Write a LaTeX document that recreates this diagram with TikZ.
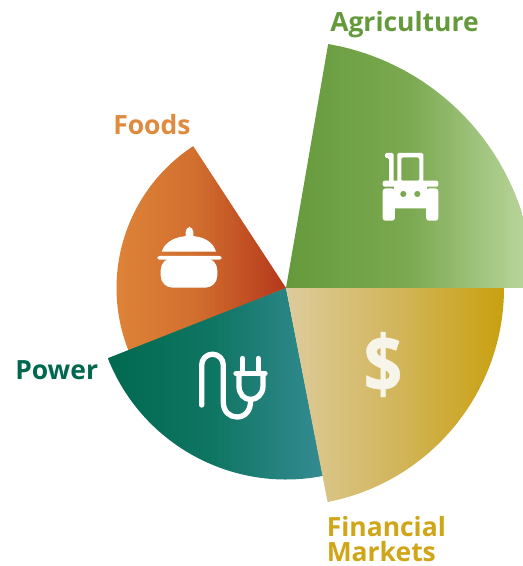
\documentclass[tikz,border=0pt]{standalone}
\usepackage{fontspec}
\setmainfont{Open Sans}
\newfontfamily\dollarfont[FakeBold=0.6]{Open Sans Bold}
\definecolor{agl}{HTML}{659A3C}\definecolor{agm}{HTML}{7BA951}\definecolor{agr}{HTML}{BDD8A0}
\definecolor{finl}{HTML}{DDCB9C}\definecolor{finm}{HTML}{D2B65C}\definecolor{finr}{HTML}{C9A00F}
\definecolor{powl}{HTML}{00694F}\definecolor{powm}{HTML}{107664}\definecolor{powr}{HTML}{348B92}
\definecolor{fool}{HTML}{E0873A}\definecolor{foom}{HTML}{D2702F}\definecolor{foor}{HTML}{B5381B}
\definecolor{agtxt}{HTML}{659A3C}\definecolor{fintxt}{HTML}{D0A517}\definecolor{powtxt}{HTML}{00684E}\definecolor{footxt}{HTML}{E08A3E}
\definecolor{dollar}{HTML}{F7F5EA}
\tikzset{
 lab/.style={font=\fontsize{19.85}{18.7}\selectfont\bfseries,inner sep=0pt,align=left},
 iconfill/.style={fill=white,draw=none},
 iconline/.style={draw=white,line width=4pt,line cap=round,line join=round},
}
\begin{document}
\begin{tikzpicture}[x=0.75pt,y=0.75pt]
\useasboundingbox (0,0) rectangle (523,566);
\clip (0,0) rectangle (523,566);
\begin{scope}[shift={(0,566)},yscale=-1]
\coordinate (c) at (286,288);
% wedges
\shade[left color=fool,right color=foor,middle color=foom] (c) -- +(-123.2:169.5) arc[start angle=-123.2,end angle=-202.3,radius=169.5] -- cycle;
\shade[left color=powl,right color=powr,middle color=powm] (c) -- +(78.9:191.5) arc[start angle=78.9,end angle=158.5,radius=191.5] -- cycle;
\shade[left color=finl,right color=finr,middle color=finm] (c) -- +(0:218) arc[start angle=0,end angle=79,radius=218] -- cycle;
\shade[left color=agl,right color=agr,middle color=agm] (c) -- +(-80.2:247.6) arc[start angle=-80.2,end angle=0,radius=247.6] -- cycle;
% tractor
\path[iconfill,even odd rule,rounded corners=1pt]
 (397.3,153) rectangle (423.3,184)
 (401.3,157.5) rectangle (419.3,181);
\path[iconfill,rounded corners=1pt] (385,153) -- (393.5,153) -- (393.5,183) -- (389,183) -- (389,158) -- (385,158) -- cycle;
\path[iconfill,rounded corners=1.5pt] (382.7,180.7) rectangle (438.3,186.7);
\path[iconfill,rounded corners=2pt] (382.7,188.5) rectangle (394.8,220.7);
\path[iconfill,rounded corners=2pt] (426.2,188.5) rectangle (438.3,220.7);
\path[iconfill,even odd rule] (394,185) rectangle (427,208.5)
 (403.3,194) circle[radius=3.2] (417.3,194) circle[radius=3.2];
% pot
\path[iconfill,rounded corners=3.5pt] (185.7,241) -- (185.7,227) -- (193.3,227) -- (193.3,241) -- cycle;
\path[iconfill] (161.7,251.7) .. controls (165,241.5) and (176,236) .. (189.5,236) .. controls (203,236) and (213,241.5) .. (216,251.7) -- cycle;
\path[iconfill,rounded corners=1.8pt] (157.3,256) rectangle (221.7,259.7);
\path[iconfill,rounded corners=9pt] (160.7,258) -- (160.7,287.7) -- (217.3,287.7) -- (217.3,258) -- cycle;
% plug
\draw[iconline] (201.7,405) -- (201.7,365) arc[start angle=180,end angle=360,radius=10.8] -- (223.3,402)
 .. controls (223.3,412) and (230,417) .. (237,417) .. controls (245,417) and (250.7,411) .. (250.7,400);
\draw[iconline] (236,373.5) -- (265,373.5);
\draw[iconline] (239,373.5) -- (239,386) .. controls (239,394) and (244,399.5) .. (250.7,399.5) .. controls (257,399.5) and (263,394) .. (263,386) -- (263,373.5);
\draw[iconline] (242.5,373.5) -- (242.5,358.5);
\draw[iconline] (258.3,373.5) -- (258.3,358.5);
% dollar
\node[inner sep=0pt,text=dollar,font=\fontsize{51}{51}\dollarfont] (dollarsign) at (383,364.5) {\scalebox{1}[1.17]{\$}};
% labels
\node[lab,text=agtxt,anchor=west] (agri) at (330,25) {Agriculture};
\node[lab,text=footxt,anchor=west] (foods) at (113,125) {Foods};
\node[lab,text=powtxt,anchor=west] (power) at (15,370) {Power};
\node[lab,text=fintxt,anchor=west] (fin) at (326.5,539) {Financial\\Markets};
\end{scope}
\end{tikzpicture}
\end{document}
